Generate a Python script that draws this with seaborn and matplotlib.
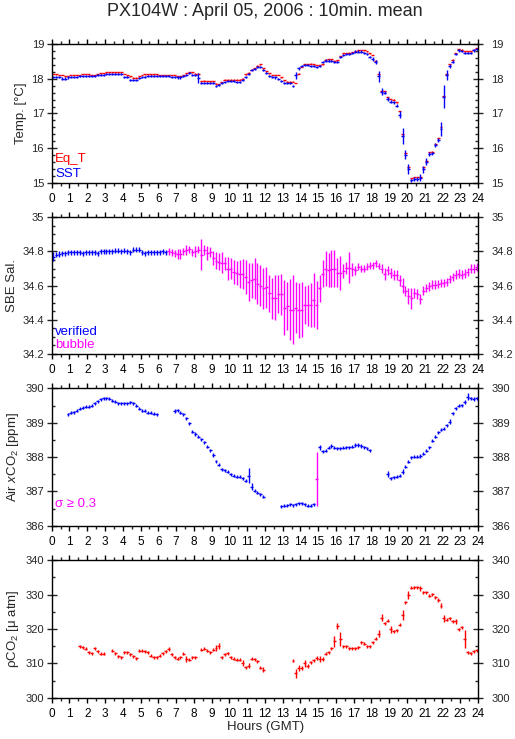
import numpy as np
import pandas as pd
import matplotlib
matplotlib.use("Agg")
import matplotlib.pyplot as plt
import matplotlib.transforms as mtransforms
import seaborn as sns
from matplotlib.ticker import MultipleLocator, FuncFormatter

n = np.nan

# 10-minute means, one row per hour (6 bins)
sst = [
    18.06, 18.06, 18.06, 18.01, 18.01, 18.04,
    18.06, 18.06, 18.06, 18.07, 18.07, 18.07,
    18.07, 18.07, 18.08, 18.10, 18.12, 18.12,
    18.14, 18.14, 18.14, 18.14, 18.14, 18.14,
    18.06, 18.05, 17.98, 17.97, 17.97, 18.02,
    18.05, 18.06, 18.08, 18.08, 18.08, 18.08,
    18.07, 18.07, 18.07, 18.08, 18.06, 18.06,
    18.04, 18.04, 18.07, 18.12, 18.16, 18.12,
    18.12, 18.02, 17.89, 17.89, 17.88, 17.88,
    17.87, 17.79, 17.82, 17.88, 17.92, 17.93,
    17.93, 17.93, 17.92, 17.92, 17.97, 18.06,
    18.15, 18.26, 18.28, 18.33, 18.35, 18.26,
    18.18, 18.09, 18.05, 18.04, 18.00, 17.94,
    17.87, 17.89, 17.87, 17.80, 18.11, 18.31,
    18.38, 18.39, 18.39, 18.38, 18.36, 18.33,
    18.37, 18.50, 18.53, 18.53, 18.51, 18.50,
    18.50, 18.62, 18.70, 18.72, 18.72, 18.76,
    18.79, 18.79, 18.79, 18.76, 18.72, 18.64,
    18.58, 18.48, 18.07, 17.63, 17.60, 17.42,
    17.34, 17.32, 17.23, 16.96, 16.35, 15.80,
    15.39, 15.07, 15.10, 15.10, 15.14, 15.39,
    15.60, 15.83, 15.85, 16.09, 16.23, 16.55,
    17.49, 18.11, 18.37, 18.50, 18.72, 18.82,
    18.81, 18.76, 18.76, 18.76, 18.82, 18.86,
]
sst_sd = [
    .03, .03, .03, .03, .03, .03,
    .03, .03, .03, .03, .03, .03,
    .03, .03, .03, .03, .03, .03,
    .03, .03, .03, .03, .03, .03,
    .03, .03, .03, .03, .03, .03,
    .03, .03, .03, .03, .03, .03,
    .03, .03, .03, .03, .03, .03,
    .03, .03, .03, .03, .03, .03,
    .03, .14, .03, .03, .03, .03,
    .03, .03, .03, .03, .03, .03,
    .03, .03, .03, .03, .03, .03,
    .03, .03, .03, .03, .03, .03,
    .03, .03, .03, .03, .03, .03,
    .03, .03, .03, .03, .10, .04,
    .03, .03, .03, .03, .03, .03,
    .03, .03, .03, .03, .03, .03,
    .03, .03, .03, .03, .03, .03,
    .03, .03, .03, .03, .03, .03,
    .05, .06, .15, .10, .05, .07,
    .04, .04, .05, .10, .22, .13,
    .15, .05, .05, .05, .10, .10,
    .10, .05, .05, .07, .05, .20,
    .32, .15, .05, .05, .04, .03,
    .03, .03, .03, .03, .03, .03,
]
eq_t = [
    18.14, 18.13, 18.11, 18.11, 18.08, 18.08,
    18.11, 18.11, 18.11, 18.11, 18.14, 18.14,
    18.13, 18.11, 18.11, 18.14, 18.16, 18.16,
    18.19, 18.19, 18.19, 18.19, 18.19, 18.19,
    18.14, 18.10, 18.07, 18.03, 18.03, 18.07,
    18.11, 18.13, 18.13, 18.13, 18.13, 18.13,
    18.11, 18.11, 18.11, 18.11, 18.11, 18.11,
    18.08, 18.08, 18.11, 18.16, 18.19, 18.19,
    18.15, 18.15, 17.93, 17.95, 17.93, 17.93,
    17.93, 17.86, 17.85, 17.90, 17.97, 17.98,
    17.98, 17.98, 17.97, 17.97, 18.00, 18.13,
    18.18, 18.27, 18.30, 18.38, 18.42, 18.31,
    18.22, 18.16, 18.11, 18.11, 18.11, 18.04,
    17.96, 17.92, 17.92, 17.92, 17.88, 18.15,
    18.35, 18.42, 18.42, 18.44, 18.42, 18.40,
    18.39, 18.42, 18.55, 18.56, 18.56, 18.53,
    18.54, 18.66, 18.74, 18.74, 18.76, 18.77,
    18.80, 18.83, 18.83, 18.83, 18.80, 18.74,
    18.69, 18.53, 18.13, 17.66, 17.64, 17.47,
    17.42, 17.40, 17.32, 17.07, 16.40, 15.85,
    15.45, 15.13, 15.16, 15.16, 15.16, 15.45,
    15.64, 15.88, 15.90, 16.12, 16.28, 16.60,
    17.50, 18.13, 18.42, 18.55, 18.74, 18.85,
    18.84, 18.80, 18.80, 18.80, 18.84, 18.88,
]

sal = [
    34.770, 34.780, 34.785, 34.790, 34.790, 34.795,
    34.795, 34.795, 34.795, 34.795, 34.790, 34.795,
    34.795, 34.795, 34.795, 34.790, 34.800, 34.800,
    34.800, 34.800, 34.800, 34.805, 34.805, 34.800,
    34.805, 34.800, 34.795, 34.810, 34.810, 34.810,
    34.795, 34.790, 34.795, 34.795, 34.795, 34.795,
    34.795, 34.800, 34.795, 34.800, 34.795, 34.789,
    34.785, 34.783, 34.800, 34.810, 34.813, 34.795,
    34.800, 34.810, 34.780, 34.809, 34.789, 34.795,
    34.760, 34.745, 34.740, 34.735, 34.730, 34.700,
    34.700, 34.678, 34.676, 34.668, 34.668, 34.649,
    34.620, 34.630, 34.640, 34.610, 34.600, 34.585,
    34.590, 34.555, 34.525, 34.530, 34.550, 34.550,
    34.470, 34.480, 34.460, 34.460, 34.470, 34.455,
    34.460, 34.485, 34.485, 34.485, 34.515, 34.485,
    34.585, 34.670, 34.700, 34.690, 34.700, 34.700,
    34.675, 34.675, 34.685, 34.705, 34.705, 34.695,
    34.690, 34.710, 34.700, 34.700, 34.710, 34.717,
    34.720, 34.730, 34.715, 34.700, 34.670, 34.690,
    34.675, 34.660, 34.660, 34.630, 34.600, 34.570,
    34.540, 34.525, 34.555, 34.550, 34.520, 34.570,
    34.585, 34.595, 34.605, 34.605, 34.610, 34.615,
    34.615, 34.620, 34.640, 34.650, 34.665, 34.670,
    34.665, 34.670, 34.680, 34.700, 34.700, 34.710,
]
sal_sd = [
    .025, .015, .015, .015, .015, .015,
    .015, .015, .015, .015, .015, .015,
    .015, .015, .015, .015, .015, .015,
    .015, .015, .015, .015, .015, .015,
    .015, .015, .015, .015, .015, .015,
    .015, .015, .015, .015, .015, .015,
    .015, .015, .015, .02, .02, .02,
    .03, .03, .02, .03, .02, .02,
    .03, .02, .09, .03, .04, .03,
    .04, .05, .05, .06, .04, .07,
    .06, .07, .07, .08, .09, .10,
    .11, .10, .12, .12, .12, .12,
    .12, .11, .12, .13, .11, .12,
    .16, .14, .18, .20, .15, .16,
    .16, .11, .12, .13, .16, .14,
    .08, .08, .10, .10, .11, .11,
    .085, .10, .04, .035, .09, .04,
    .025, .02, .02, .02, .02, .02,
    .02, .02, .02, .025, .035, .025,
    .03, .03, .03, .03, .045, .03,
    .045, .06, .03, .03, .03, .025,
    .025, .025, .025, .025, .025, .025,
    .025, .025, .025, .025, .025, .025,
    .025, .025, .025, .025, .025, .025,
]
sal_qc = ["verified"] * 39 + ["bubble"] * 105

air_xco2 = [
    n, n, n, n, n, 389.24,
    389.29, 389.30, 389.35, 389.40, 389.44, 389.46,
    389.47, 389.50, 389.56, 389.62, 389.68, 389.71,
    389.71, 389.70, 389.64, 389.61, 389.56, 389.56,
    389.56, 389.56, 389.59, 389.56, 389.49, 389.40,
    389.35, 389.35, 389.29, 389.29, 389.26, 389.24,
    n, n, n, n, n, 389.34,
    389.36, 389.29, 389.24, 389.13, 388.98, 388.74,
    388.67, 388.59, 388.52, 388.43, 388.30, 388.20,
    388.06, 387.88, 387.77, 387.64, 387.62, 387.57,
    387.50, 387.45, 387.43, 387.43, 387.38, 387.31,
    387.45, 387.13, 387.02, 386.96, 386.91, 386.84,
    n, n, n, n, n, 386.57,
    386.58, 386.60, 386.63, 386.60, 386.63, 386.65,
    386.65, 386.63, 386.58, 386.58, 386.63, 387.36,
    388.28, 388.17, 388.18, 388.27, 388.32, 388.27,
    388.25, 388.25, 388.27, 388.28, 388.28, 388.30,
    388.35, 388.35, 388.32, 388.28, 388.25, 388.20,
    n, n, n, n, n, 387.50,
    387.38, 387.41, 387.43, 387.46, 387.57, 387.72,
    387.86, 387.99, 388.01, 388.01, 388.03, 388.09,
    388.18, 388.28, 388.47, 388.59, 388.72, 388.79,
    388.83, 388.93, 389.03, 389.27, 389.42, 389.49,
    389.51, 389.61, 389.76, 389.71, 389.69, 389.71,
]
air_sd = [
    .045, .045, .045, .045, .045, .045,
    .045, .045, .045, .045, .045, .045,
    .045, .045, .045, .045, .045, .045,
    .045, .045, .045, .045, .045, .045,
    .045, .045, .045, .045, .045, .045,
    .045, .045, .045, .045, .045, .045,
    .045, .045, .045, .045, .045, .045,
    .045, .045, .045, .045, .045, .045,
    .045, .045, .045, .045, .045, .045,
    .045, .045, .045, .045, .045, .045,
    .045, .045, .045, .045, .045, .045,
    .22, .10, .045, .045, .045, .045,
    .045, .045, .045, .045, .045, .045,
    .045, .045, .045, .045, .045, .045,
    .045, .045, .045, .045, .045, .80,
    .08, .045, .045, .045, .045, .045,
    .045, .045, .045, .045, .045, .045,
    .045, .045, .045, .045, .045, .045,
    .045, .045, .045, .045, .045, .08,
    .045, .045, .045, .045, .07, .045,
    .045, .045, .045, .045, .045, .045,
    .045, .045, .045, .045, .045, .045,
    .045, .045, .08, .045, .045, .045,
    .045, .06, .10, .045, .045, .045,
]

pco2 = [
    n, n, n, n, n, n,
    n, n, n, 314.94, 314.65, 314.27,
    313.30, 313.00, 314.46, 313.50, 312.80, 312.80,
    n, n, 313.70, 313.00, 312.05, 311.76,
    313.30, 313.20, 312.70, 312.05, 311.57, 313.70,
    313.70, 313.50, 313.30, 312.24, 311.86, 311.86,
    312.24, 313.00, 313.50, 314.20, 312.70, 311.86,
    311.40, 311.86, 312.80, 311.30, 311.10, 311.76,
    311.76, n, 313.98, 314.27, 313.70, 313.20,
    313.98, 314.46, 315.13, 311.86, 312.70, 313.00,
    311.86, 311.40, 311.10, 311.10, 310.10, 308.90,
    309.35, 311.40, 311.20, 310.60, 308.80, 308.20,
    n, n, n, n, n, n,
    n, n, n, 310.80, 307.20, 308.70,
    308.70, 310.10, 309.35, 310.30, 310.90, 311.60,
    311.40, 311.30, 312.80, 313.30, 314.46, 316.40,
    320.90, 317.10, 314.94, 314.94, 314.46, 314.46,
    314.46, 314.75, 316.20, 315.70, 314.94, 314.94,
    316.20, 317.20, 318.60, 323.30, 321.70, 322.40,
    319.95, 319.30, 319.60, 321.20, 324.10, 327.70,
    329.90, 332.00, 332.10, 332.10, 331.80, 330.65,
    330.65, 329.70, 330.10, 329.20, 328.40, 326.80,
    323.10, 322.65, 323.10, 322.20, 322.20, 319.95,
    320.50, 317.10, 313.30, 313.00, 313.50, 313.80,
]
pco2_sd = [
    .45, .45, .45, .45, .45, .45,
    .45, .45, .45, .45, .45, .45,
    .45, .45, .45, .45, .45, .45,
    .45, .45, .45, .45, .45, .45,
    .45, .45, .45, .45, .45, .45,
    .45, .45, .45, .45, .45, .45,
    .45, .45, .45, .60, .45, .45,
    .45, .45, .45, .80, .45, .45,
    .45, .45, .45, .45, .45, .45,
    .45, .80, .90, .45, .45, .45,
    .45, .45, .45, .45, .80, .45,
    .80, .45, .45, .45, .45, .80,
    .45, .45, .45, .45, .45, .45,
    .45, .45, .45, .45, 1.3, 1.0,
    .60, 1.0, .60, .45, .45, .45,
    .90, .45, .45, .45, .45, 1.6,
    .90, 1.9, .45, .45, .45, .45,
    .45, .45, .45, .45, .45, .45,
    .45, .45, 1.0, 1.1, .45, .45,
    1.0, .45, .45, .45, 1.5, .45,
    1.1, .45, .45, .45, .70, .45,
    .45, .45, .45, .45, .45, .80,
    1.0, .45, .45, .45, .80, .45,
    .45, 2.5, .45, .45, .45, .45,
]

BLUE = "#0000ff"
RED = "#ff0000"
MAGENTA = "#ff00ff"

hours = np.arange(144) / 6 + 1 / 12
half_bin = 1 / 12

df = pd.DataFrame({
    "hour": hours, "sst": sst, "sst_sd": sst_sd, "eq_t": eq_t,
    "sal": sal, "sal_sd": sal_sd, "sal_qc": sal_qc,
    "xco2": air_xco2, "xco2_sd": air_sd, "pco2": pco2, "pco2_sd": pco2_sd,
})

sns.set_theme(style="ticks")
plt.rcParams["font.family"] = ["Liberation Sans", "DejaVu Sans"]
plt.rcParams["mathtext.fontset"] = "custom"
plt.rcParams["mathtext.rm"] = "Liberation Sans"
plt.rcParams["mathtext.it"] = "Liberation Sans:italic"
plt.rcParams["axes.linewidth"] = 1.0
plt.rcParams["axes.edgecolor"] = "black"

fig = plt.figure(figsize=(5.15, 7.39), dpi=100)
left, width = 0.1004, 0.8278
boxes = [(0.7528, 0.1873), (0.5210, 0.1850), (0.2886, 0.1859), (0.0555, 0.1867)]
axes = [fig.add_axes([left, b, width, h]) for b, h in boxes]

TICK_FS = 8
right_shift = mtransforms.ScaledTranslation(4 / 72, 0, fig.dpi_scale_trans)


def bars(ax, x, y, sd, color):
    ax.errorbar(x, y, xerr=half_bin, yerr=sd, fmt="none",
                ecolor=color, elinewidth=1.0, capsize=0)


def style_axis(ax, ylim, major, minor, ylabel):
    ax.set_xlim(0, 24)
    ax.set_ylim(*ylim)
    ax.xaxis.set_major_locator(MultipleLocator(1))
    ax.xaxis.set_minor_locator(MultipleLocator(0.5))
    ax.yaxis.set_major_locator(MultipleLocator(major))
    ax.yaxis.set_minor_locator(MultipleLocator(minor))
    ax.yaxis.set_major_formatter(FuncFormatter(lambda v, p: f"{v:g}"))
    ax.tick_params(axis="x", which="major", direction="out", length=3.6, width=1,
                   top=True, bottom=True, labelsize=8.5, pad=3.5, colors="black")
    ax.tick_params(axis="x", which="minor", direction="out", length=2.2, width=1,
                   top=True, bottom=True)
    ax.tick_params(axis="y", which="major", direction="inout", length=7, width=1,
                   left=True, right=True, labelleft=True, labelright=True,
                   labelsize=TICK_FS, pad=2)
    ax.tick_params(axis="y", which="minor", direction="in", length=2.4, width=1,
                   left=True, right=True)
    # right-hand labels sit a little further from the frame than the left ones
    for tick in ax.yaxis.get_major_ticks():
        tick.label2.set_transform(tick.label2.get_transform() + right_shift)
    ax.set_ylabel(ylabel, fontsize=9.5, labelpad=3)
    for s in ax.spines.values():
        s.set_visible(True)
        s.set_color("black")
    ax.grid(False)


# Panel 1: temperatures
ax = axes[0]
bars(ax, df["hour"], df["eq_t"], 0.012, RED)
bars(ax, df["hour"], df["sst"], df["sst_sd"], BLUE)
style_axis(ax, (15, 19), 1, 0.2, "Temp. [°C]")
ax.text(0.008, 0.152, "Eq_T", color=RED, fontsize=9.5, transform=ax.transAxes)
ax.text(0.008, 0.043, "SST", color=BLUE, fontsize=9.5, transform=ax.transAxes)

# Panel 2: salinity
ax = axes[1]
for qc, color in [("verified", BLUE), ("bubble", MAGENTA)]:
    part = df[df["sal_qc"] == qc]
    bars(ax, part["hour"], part["sal"], part["sal_sd"], color)
style_axis(ax, (34.2, 35.0), 0.2, 0.05, "SBE Sal.")
ax.text(0.008, 0.139, "verified", color=BLUE, fontsize=9.5, transform=ax.transAxes)
ax.text(0.008, 0.046, "bubble", color=MAGENTA, fontsize=9.5, transform=ax.transAxes)

# Panel 3: air xCO2
ax = axes[2]
noisy = df["xco2_sd"] >= 0.3
bars(ax, df.loc[~noisy, "hour"], df.loc[~noisy, "xco2"], df.loc[~noisy, "xco2_sd"], BLUE)
bars(ax, df.loc[noisy, "hour"], df.loc[noisy, "xco2"], df.loc[noisy, "xco2_sd"], MAGENTA)
style_axis(ax, (386, 390), 1, 0.5, "Air $\\it{x}$CO$_2$ [ppm]")
ax.text(0.008, 0.134, "σ ≥ 0.3", color=MAGENTA, fontsize=9.5, transform=ax.transAxes)

# Panel 4: pCO2
ax = axes[3]
bars(ax, df["hour"], df["pco2"], df["pco2_sd"], RED)
style_axis(ax, (300, 340), 10, 5, "ρCO$_2$ [μ atm]")

fig.text(0.515, 0.984, "PX104W : April 05, 2006 : 10min. mean",
         ha="center", va="center", fontsize=13)
fig.text(0.515, 0.016, "Hours (GMT)", ha="center", va="center", fontsize=9.5)

fig.savefig("out.png", dpi=100, facecolor="white")
